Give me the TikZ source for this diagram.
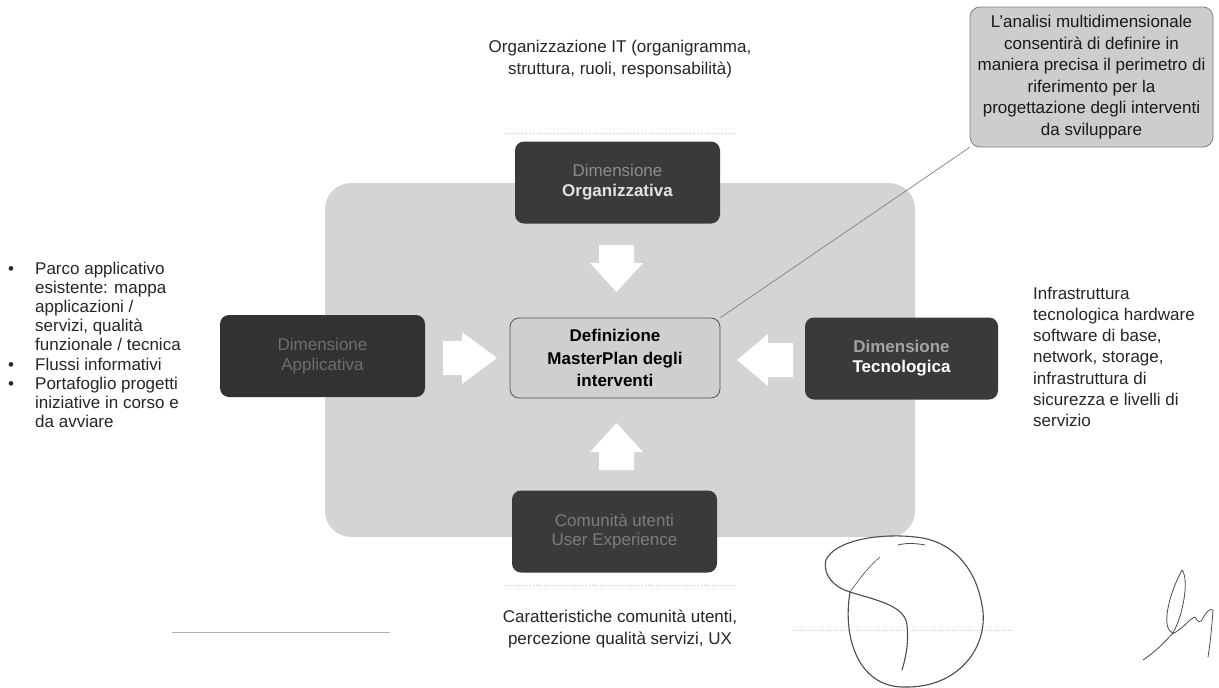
\documentclass[tikz,border=0pt]{standalone}
\usepackage{fontspec}
\setmainfont{Liberation Sans}
\definecolor{bgpanel}{HTML}{D4D4D4}
\definecolor{boxdark}{HTML}{3A3A3A}
\definecolor{boxdarker}{HTML}{323232}
\definecolor{centerfill}{HTML}{CFCFCF}
\definecolor{calloutfill}{HTML}{CDCDCD}
\definecolor{inkgray}{HTML}{555555}
\definecolor{dimtxt}{HTML}{8C8C8C}
\definecolor{lowtxt}{HTML}{6E6E6E}
\definecolor{brighttxt}{HTML}{E2E2E2}
\definecolor{faint}{HTML}{C8C8C8}
\newcommand\fsz{\fontsize{17}{20}\selectfont}
\begin{document}
\begin{tikzpicture}[x=1pt,y=-1pt,
  darkbox/.style={fill=boxdark, rounded corners=9pt, minimum width=205pt, minimum height=82pt, align=center, inner sep=0pt, font=\fsz},
  centerbox/.style={fill=centerfill, draw=inkgray, line width=0.8pt, rounded corners=9pt, minimum width=210pt, minimum height=80pt, align=center, inner sep=0pt, font=\fontsize{17}{22.5}\selectfont\bfseries},
  calloutbox/.style={fill=calloutfill, draw=gray, line width=0.8pt, rounded corners=10pt, minimum width=243pt, minimum height=140pt, align=center, inner sep=0pt, text=black!90, font=\fontsize{17}{21.5}\selectfont},
  plaintext/.style={inner sep=0pt, font=\fsz, text=black!85},
  blockarrow/.style={fill=white, draw=none},
  sig/.style={draw=black!70, line width=1.1pt, line cap=round, line join=round},
  faintline/.style={draw=faint, line width=0.8pt, dotted}
]
\useasboundingbox (0,0) rectangle (1219,688);
\fill[white] (0,0) rectangle (1219,688);

% background panel
\fill[bgpanel, rounded corners=26pt] (325,183) rectangle (915,537);

% faint scan lines
\draw[faintline] (505,133) -- (735,133);
\draw[faintline] (505,585) -- (735,585);
\draw[draw=black!30, line width=0.6pt] (172,632) -- (390,632);
\draw[faintline] (792,630) -- (1012,630);

% dimension boxes
\node[darkbox] (org) at (617.5,182.5) {\textcolor{dimtxt}{Dimensione}\\\textcolor{brighttxt}{\bfseries Organizzativa}};
\node[darkbox, fill=boxdarker] (app) at (322.5,356) {\textcolor{lowtxt}{Dimensione}\\\textcolor{lowtxt}{Applicativa}};
\node[darkbox, minimum width=193pt] (tec) at (901.5,358.5) {\textcolor{dimtxt!80!white}{\bfseries Dimensione}\\\textcolor{white}{\bfseries Tecnologica}};
\node[darkbox] (ux) at (614.5,531.5) {\textcolor{lowtxt!90!white}{Comunità utenti}\\\textcolor{lowtxt!90!white}{User Experience}};

% center box
\node[centerbox] (mp) at (615,358) {Definizione\\MasterPlan degli\\interventi};

% block arrows
\fill[blockarrow] (599,245) -- (634,245) -- (634,263) -- (643,263) -- (616.5,292) -- (590,263) -- (599,263) -- cycle;
\fill[blockarrow] (599,470) -- (634,470) -- (634,452) -- (643,452) -- (616.5,423) -- (590,452) -- (599,452) -- cycle;
\fill[blockarrow] (443,341) -- (443,375) -- (462,375) -- (462,384) -- (497,358) -- (462,332) -- (462,341) -- cycle;
\fill[blockarrow] (793,343) -- (793,377) -- (768,377) -- (768,386) -- (737,360) -- (768,334) -- (768,343) -- cycle;

% callout
\node[calloutbox] (call) at (1091.5,77) {L'analisi multidimensionale\\consentirà di definire in\\maniera precisa il perimetro di\\riferimento per la\\progettazione degli interventi\\da sviluppare};
\draw[gray, line width=0.7pt] (mp.north east) -- (call.south west);

% descriptive texts
\node[plaintext, align=center, font=\fontsize{17}{22}\selectfont] (orgtxt) at (620,59) {Organizzazione IT (organigramma,\\struttura, ruoli, responsabilità)};
\node[plaintext, align=center, font=\fontsize{17}{21.5}\selectfont] (uxtxt) at (620,629) {Caratteristiche comunità utenti,\\percezione qualità servizi, UX};
\node[plaintext, anchor=north west, align=left, font=\fontsize{17}{19.2}\selectfont] (apptxt) at (8,261.5) {%
\makebox[27pt][l]{\textbullet}Parco applicativo\\
\hspace*{27pt}esistente: mappa\\
\hspace*{27pt}applicazioni /\\
\hspace*{27pt}servizi, qualità\\
\hspace*{27pt}funzionale / tecnica\\
\makebox[27pt][l]{\textbullet}Flussi informativi\\
\makebox[27pt][l]{\textbullet}Portafoglio progetti\\
\hspace*{27pt}iniziative in corso e\\
\hspace*{27pt}da avviare};
\node[plaintext, anchor=north west, align=left, font=\fontsize{17}{21.3}\selectfont] (tectxt) at (1033,286.5) {Infrastruttura\\tecnologica hardware\\software di base,\\network, storage,\\infrastruttura di\\sicurezza e livelli di\\servizio};

% signatures
\draw[sig] (850,592) .. controls (842,640) and (860,688) .. (905,687)
  .. controls (960,688) and (990,645) .. (982,605)
  .. controls (975,565) and (950,540) .. (915,537)
  .. controls (880,533) and (835,540) .. (826,560)
  .. controls (822,575) and (835,588) .. (850,592)
  .. controls (875,600) and (905,605) .. (907,625)
  .. controls (909,645) and (905,660) .. (902,670);
\draw[sig, line width=0.6pt] (850,592) .. controls (860,578) and (870,565) .. (880,557);
\draw[sig, line width=0.8pt] (898,545) .. controls (905,543) and (915,543) .. (925,545);
\draw[sig, line width=0.8pt] (1143,660) .. controls (1155,652) and (1165,642) .. (1173,633)
  .. controls (1162,630) and (1166,600) .. (1182,570)
  .. controls (1190,580) and (1182,620) .. (1172,634)
  .. controls (1182,630) and (1190,618) .. (1195,617)
  .. controls (1198,622) and (1200,624) .. (1203,618)
  .. controls (1206,612) and (1210,608) .. (1213,610)
  .. controls (1212,625) and (1210,645) .. (1208,657);
\end{tikzpicture}
\end{document}
